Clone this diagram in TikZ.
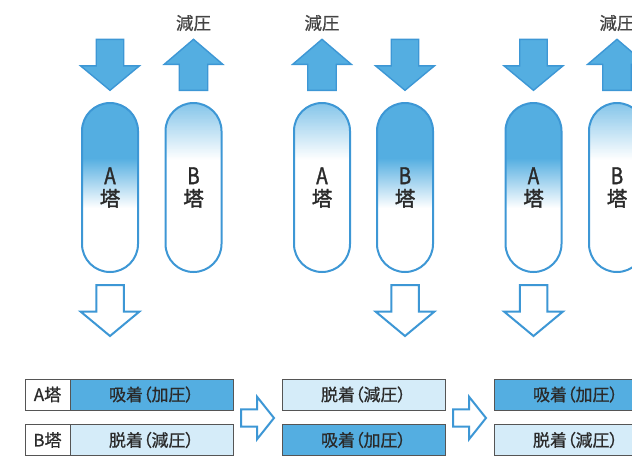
\documentclass[tikz,border=0pt]{standalone}
\usepackage{graphicx}
\usepackage{fontspec}
\setmainfont{Noto Sans CJK JP}
\newfontfamily\jpbold{Noto Sans CJK JP}[FakeBold=1.6]
\newfontfamily\jpmed{Noto Sans CJK JP}[FakeBold=0.7,RawFeature=+palt]
\usetikzlibrary{calc}
\definecolor{tblue}{HTML}{54AEE1}
\definecolor{tline}{HTML}{3D97D5}
\definecolor{lblue}{HTML}{D5ECF9}
\definecolor{txt}{HTML}{2A2A2A}
\definecolor{lbltxt}{HTML}{444444}
\definecolor{edge}{HTML}{555555}
\newcommand{\tallletter}[1]{\scalebox{0.82}[1]{\fontsize{23}{22}\selectfont #1}}
\tikzset{
  tower/.style={draw=tline, line width=2pt, rounded corners=28pt, minimum width=56pt,
    minimum height=169pt, inner sep=0pt, align=center, text=txt,
    font=\jpbold\fontsize{20.5}{22}\selectfont},
  adsorb/.style={tower, path picture={
    \fill[tblue, sharp corners] (path picture bounding box.north west) rectangle
      ($(path picture bounding box.north east)+(0,55.5)$);
    \foreach \i in {0,...,49}{
      \pgfmathtruncatemacro\pct{100-2*\i}
      \fill[tblue!\pct!white, sharp corners]
        ($(path picture bounding box.north west)+(0,55+\i)$) rectangle
        ($(path picture bounding box.north east)+(0,56.3+\i)$);}}},
  desorb/.style={tower, path picture={
    \foreach \i in {0,...,57}{
      \pgfmathtruncatemacro\pct{72-72*\i/57}
      \fill[tblue!\pct!white, sharp corners]
        ($(path picture bounding box.north west)+(0,\i)$) rectangle
        ($(path picture bounding box.north east)+(0,1.3+\i)$);}}},
  solidarr/.style={fill=tblue, draw=tline, line width=1.4pt},
  hollowarr/.style={fill=white, draw=tline, line width=2pt},
  downarr/.pic={\path[pic actions] (-13.75,0) -- (13.75,0) -- (13.75,26.5) -- (29.5,26.5)
     -- (0,51) -- (-29.5,26.5) -- (-13.75,26.5) -- cycle;},
  uparr/.pic={\path[pic actions] (-14.25,51) -- (14.25,51) -- (14.25,25) -- (29.25,25)
     -- (0,0) -- (-29.25,25) -- (-14.25,25) -- cycle;},
  rightarr/.pic={\path[pic actions] (0,-8.7) -- (16,-8.7) -- (16,-21.3) -- (33,0)
     -- (16,21.3) -- (16,8.7) -- (0,8.7) -- cycle;},
  plabel/.style={text=lbltxt, font=\jpmed\fontsize{17.5}{17.5}\selectfont, inner sep=0pt},
  cell/.style={draw=edge, line width=0.9pt, minimum height=31pt, inner sep=0pt,
    text=txt, font=\jpmed\fontsize{17}{17}\selectfont},
  namecell/.style={cell, fill=white, minimum width=45pt},
  bluecell/.style={cell, fill=tblue, minimum width=163pt},
  lightcell/.style={cell, fill=lblue, minimum width=163pt},
}
\begin{document}
\begin{tikzpicture}[x=1pt,y=-1pt]
\useasboundingbox (0,0) rectangle (632,456);
\clip (0,0) rectangle (632,456);
% panel 1
\pic[solidarr] (d1) at (110,39.3) {downarr};
\pic[solidarr] (u1) at (193.5,39.3) {uparr};
\node[plabel] (l1) at (193.5,23) {減圧};
\node[adsorb] (a1) at (110,187.5) {\tallletter{A}\\塔};
\node[desorb] (b1) at (193.5,187.5) {\tallletter{B}\\塔};
\pic[hollowarr] (h1) at (110,285) {downarr};
% panel 2
\pic[solidarr] (u2) at (322,39.3) {uparr};
\node[plabel] (l2) at (322,23) {減圧};
\pic[solidarr] (d2) at (405,39.3) {downarr};
\node[desorb] (a2) at (322,187.5) {\tallletter{A}\\塔};
\node[adsorb] (b2) at (405,187.5) {\tallletter{B}\\塔};
\pic[hollowarr] (h2) at (405,285) {downarr};
% panel 3
\pic[solidarr] (d3) at (533.5,39.3) {downarr};
\pic[solidarr] (u3) at (617,39.3) {uparr};
\node[plabel] (l3) at (617,23) {減圧};
\node[adsorb] (a3) at (533.5,187.5) {\tallletter{A}\\塔};
\node[desorb] (b3) at (617,187.5) {\tallletter{B}\\塔};
\pic[hollowarr] (h3) at (533.5,285) {downarr};
% table
\node[namecell] (na) at (47.5,394.5) {A塔};
\node[namecell] (nb) at (47.5,440) {B塔};
\node[bluecell]  (r1c1) at (151.5,394.5) {吸着（加圧）};
\node[lightcell] (r2c1) at (151.5,440) {脱着（減圧）};
\node[lightcell] (r1c2) at (363.5,394.5) {脱着（減圧）};
\node[bluecell]  (r2c2) at (363.5,440) {吸着（加圧）};
\node[bluecell]  (r1c3) at (575.5,394.5) {吸着（加圧）};
\node[lightcell] (r2c3) at (575.5,440) {脱着（減圧）};
\pic[hollowarr] (s1) at (241,418) {rightarr};
\pic[hollowarr] (s2) at (453,418) {rightarr};
\end{tikzpicture}
\end{document}
